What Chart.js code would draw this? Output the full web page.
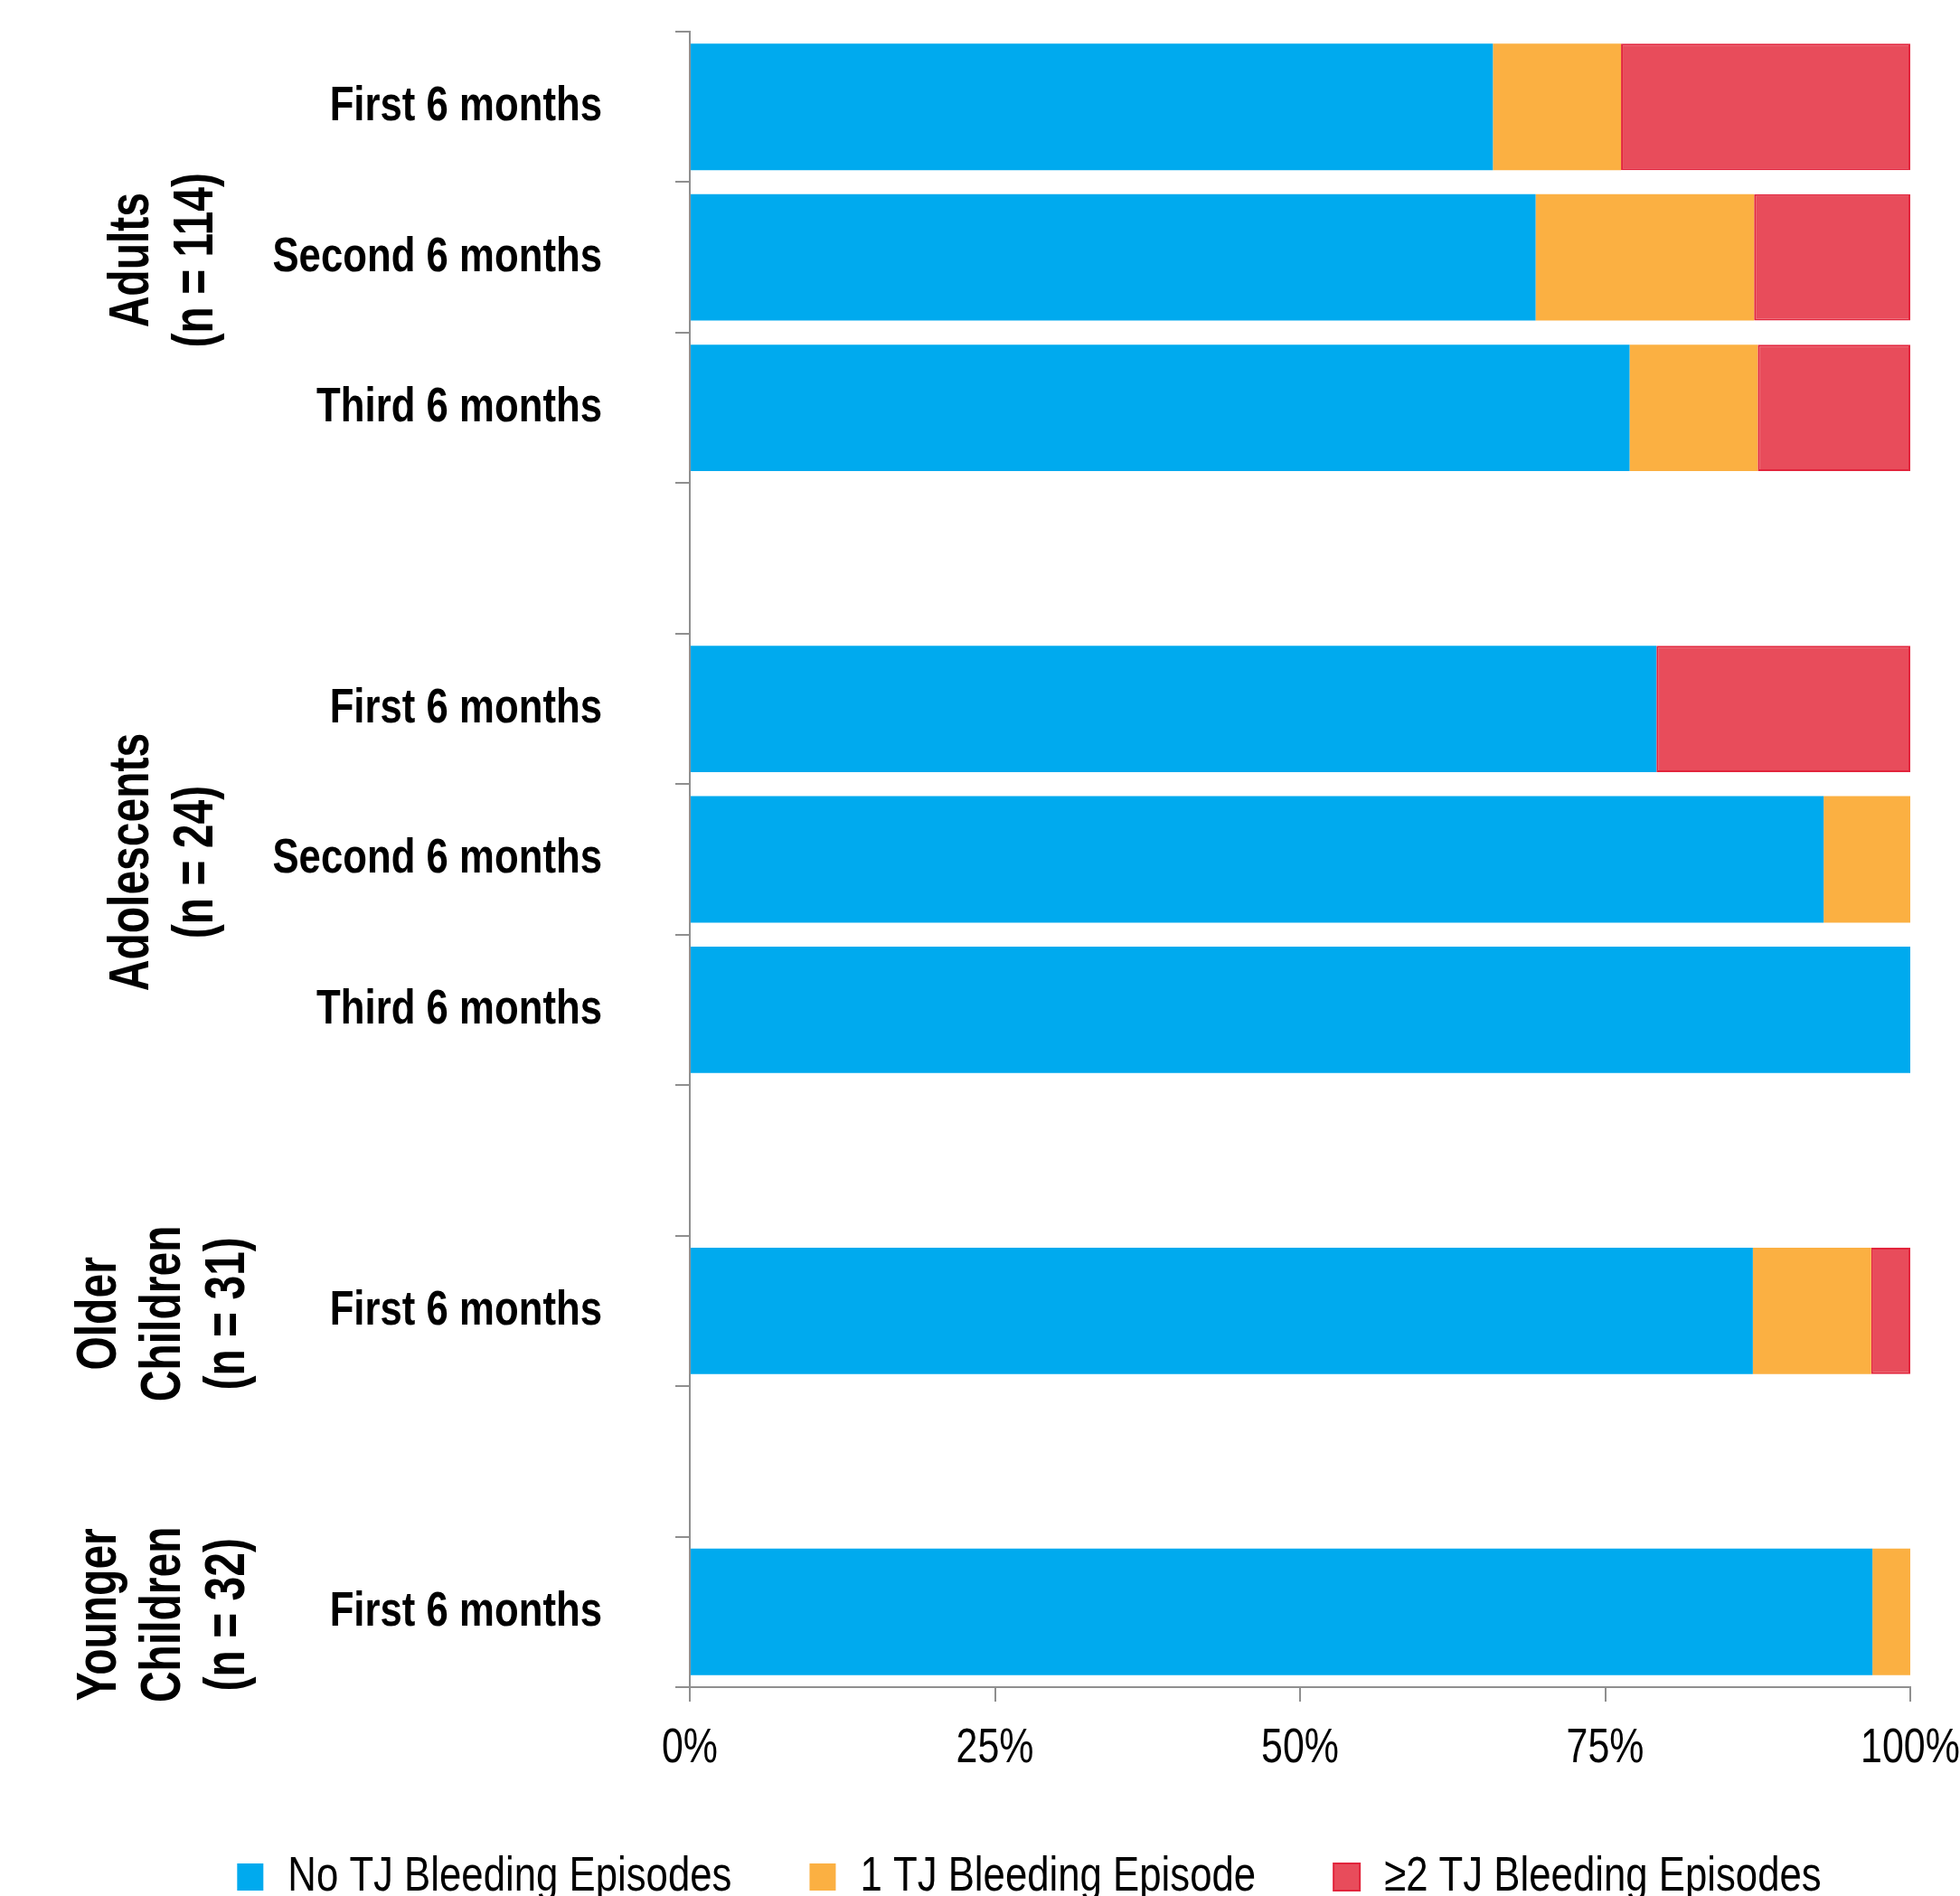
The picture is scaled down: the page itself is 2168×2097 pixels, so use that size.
<!DOCTYPE html>
<html>
<head>
<meta charset="utf-8">
<script src="https://cdn.jsdelivr.net/npm/chart.js@4.4.1/dist/chart.umd.min.js"></script>
<style>
html,body{margin:0;padding:0;background:#fff;overflow:hidden;width:2168px;height:2097px}
canvas{display:block}
</style>
</head>
<body>
<canvas id="c" width="2168" height="2113"></canvas>
<script>
// ---- data ----
const categories = ['First 6 months','Second 6 months','Third 6 months','',
                    'First 6 months','Second 6 months','Third 6 months','',
                    'First 6 months','',
                    'First 6 months'];
const noBleed      = [65.8, 69.3, 77.0, null, 79.2, 92.9, 100, null, 87.1, null, 96.9];
const oneBleed     = [10.5, 17.9, 10.5, null, 0,    7.1,  0,   null, 9.7,  null, 3.1];
const twoPlusBleed = [23.7, 12.8, 12.5, null, 20.8, 0,    0,   null, 3.2,  null, 0];
const seriesNames  = ['No TJ Bleeding Episodes','1 TJ Bleeding Episode','\u22652 TJ Bleeding Episodes'];
const xTickLabels  = ['0%','25%','50%','75%','100%'];
const groupLabels  = [['Adults','(n = 114)'],['Adolescents','(n = 24)'],['Older','Children','(n = 31)'],['Younger','Children','(n = 32)']];
const groupFirst   = [0, 4, 8, 10];
const groupLast    = [2, 6, 8, 10];

// ---- narrow-font emulation (no narrow face installed): condense text horizontally ----
const MARK = 'SimNarrow';
const NARROW = '"' + MARK + '", "Liberation Sans", Arial, sans-serif';
const SX = 0.81;
const canvas = document.getElementById('c');
const c2d = canvas.getContext('2d');
const origFill = c2d.fillText.bind(c2d);
const origMeasure = c2d.measureText.bind(c2d);
c2d.fillText = function (text, x, y, maxWidth) {
  if (this.font.indexOf(MARK) !== -1) {
    this.save();
    this.translate(x, y);
    this.scale(SX, 1);
    if (maxWidth !== undefined) origFill(text, 0, 0, maxWidth / SX); else origFill(text, 0, 0);
    this.restore();
  } else {
    if (maxWidth !== undefined) origFill(text, x, y, maxWidth); else origFill(text, x, y);
  }
};
c2d.measureText = function (text) {
  const m = origMeasure(text);
  if (this.font.indexOf(MARK) !== -1) {
    return {
      width: m.width * SX,
      actualBoundingBoxLeft: m.actualBoundingBoxLeft * SX,
      actualBoundingBoxRight: m.actualBoundingBoxRight * SX,
      actualBoundingBoxAscent: m.actualBoundingBoxAscent,
      actualBoundingBoxDescent: m.actualBoundingBoxDescent,
      fontBoundingBoxAscent: m.fontBoundingBoxAscent,
      fontBoundingBoxDescent: m.fontBoundingBoxDescent
    };
  }
  return m;
};

const AXIS = '#8f8f8f';

const groupPlugin = {
  id: 'groupLabels',
  afterDraw(chart) {
    const ys = chart.scales.y;
    const ctx = chart.ctx;
    ctx.save();
    ctx.fillStyle = '#000';
    ctx.font = 'bold 48px "Liberation Sans", Arial, sans-serif';
    ctx.textAlign = 'center';
    ctx.textBaseline = 'alphabetic';
    groupLabels.forEach((lines, g) => {
      const cy = (ys.getPixelForValue(groupFirst[g]) + ys.getPixelForValue(groupLast[g])) / 2;
      const n = lines.length;
      lines.forEach((line, i) => {
        const bx = 199 + (i - (n - 1) / 2) * 71;
        ctx.save();
        ctx.translate(bx, cy + 3);
        ctx.rotate(-Math.PI / 2);
        ctx.scale(1, 1.3);
        ctx.fillText(line, 0, 0);
        ctx.restore();
      });
    });
    ctx.restore();
  }
};

new Chart(c2d, {
  type: 'bar',
  data: {
    labels: categories,
    datasets: [
      { label: seriesNames[0], data: noBleed, backgroundColor: '#00AAEE', borderWidth: 0 },
      { label: seriesNames[1], data: oneBleed, backgroundColor: '#FBB042', borderWidth: 0 },
      { label: seriesNames[2], data: twoPlusBleed, backgroundColor: '#E84C5B', borderColor: '#E2243C', borderWidth: 2, borderSkipped: false }
    ]
  },
  options: {
    indexAxis: 'y',
    responsive: false,
    animation: false,
    maintainAspectRatio: false,
    datasets: { bar: { categoryPercentage: 1.0, barPercentage: 0.84 } },
    layout: { padding: { top: 35, left: 109, right: 0, bottom: 0 } },
    plugins: {
      tooltip: { enabled: false },
      legend: {
        position: 'bottom',
        labels: {
          boxWidth: 29, boxHeight: 30, padding: 86, color: '#000',
          font: { family: NARROW, size: 54, weight: 'normal' }
        }
      }
    },
    scales: {
      x: {
        stacked: true, min: 0, max: 100,
        border: { display: true, color: AXIS, width: 2 },
        grid: { drawOnChartArea: false, drawTicks: true, tickLength: 16, color: AXIS, lineWidth: 2 },
        ticks: {
          stepSize: 25, maxRotation: 0, padding: 21, color: '#000',
          font: { family: NARROW, size: 53, weight: 'normal' },
          callback: (v, i) => xTickLabels[i]
        },
        afterFit(scale) { scale.height = 97; scale.paddingLeft = 0; scale.paddingRight = 55; }
      },
      y: {
        stacked: true,
        border: { display: true, color: AXIS, width: 2 },
        grid: { drawOnChartArea: false, drawTicks: true, tickLength: 16, color: AXIS, lineWidth: 2, offset: true },
        ticks: {
          autoSkip: false, padding: 81, color: '#000',
          font: { family: NARROW, size: 54, weight: 'bold' }
        },
        afterFit(scale) { scale.width = 763 - 109; scale.paddingTop = 0; scale.paddingBottom = 0; }
      }
    }
  },
  plugins: [groupPlugin]
});
</script>
</body>
</html>
